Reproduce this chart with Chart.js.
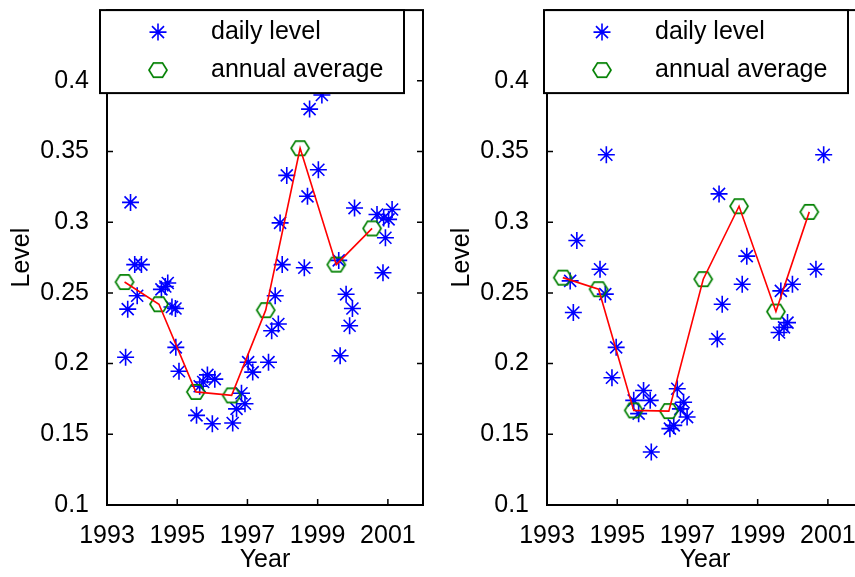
<!DOCTYPE html>
<html><head><meta charset="utf-8">
<script src="https://cdn.jsdelivr.net/npm/chart.js@4"></script>
<style>
html,body{margin:0;padding:0;background:#fff;overflow:hidden;width:855px;height:577px;position:relative;}
#c1{position:absolute;left:0;top:0;}
#c2{position:absolute;left:440px;top:0;}
</style></head><body>
<canvas id="c1" width="440" height="577"></canvas>
<canvas id="c2" width="440" height="577"></canvas>
<script>
const legendLabels = ['daily level', 'annual average'];
const xTitle = 'Year';
const yTitle = 'Level';
const xTickValues = [1993, 1995, 1997, 1999, 2001];
const xTickLabels = ['1993', '1995', '1997', '1999', '2001'];
const yTickValues = [0.1, 0.15, 0.2, 0.25, 0.3, 0.35, 0.4];
const yTickLabels = ['0.1', '0.15', '0.2', '0.25', '0.3', '0.35', '0.4'];

// Left panel
const leftDailyYears = [1993.53,1993.59,1993.67,1993.79,1993.98,1993.86,1994.55,1994.66,1994.73,1994.85,1994.95,1994.96,1995.05,1995.55,1995.64,1995.74,1995.86,1996.07,1996.00,1996.58,1996.69,1996.83,1996.93,1997.02,1997.15,1997.60,1997.69,1997.79,1997.88,1997.93,1997.99,1998.12,1998.62,1998.71,1998.77,1999.02,1999.12,1999.60,1999.64,1999.81,1999.91,1999.99,2000.05,2000.69,2000.86,2000.88,2000.93,2001.02,2001.12];
const leftDailyLevels = [0.2045,0.2385,0.314,0.270,0.270,0.248,0.2525,0.2545,0.257,0.240,0.239,0.2115,0.1946,0.1634,0.184,0.187,0.192,0.189,0.1575,0.158,0.168,0.179,0.1716,0.201,0.194,0.201,0.2232,0.248,0.228,0.2995,0.270,0.3331,0.2678,0.3183,0.380,0.3371,0.390,0.273,0.2056,0.249,0.2268,0.239,0.310,0.3054,0.2643,0.303,0.289,0.302,0.309];
const leftAvgYears = [1993.5,1994.48,1995.53,1996.55,1997.52,1998.5,1999.53,2000.55];
const leftAvgLevels = [0.2577,0.242,0.180,0.1775,0.2378,0.3523,0.270,0.2956];

// Right panel
const rightDailyYears = [1993.66,1993.75,1993.85,1994.51,1994.66,1994.69,1994.85,1994.97,1995.47,1995.61,1995.75,1995.94,1995.97,1996.50,1996.61,1996.71,1996.80,1996.89,1996.99,1997.85,1997.90,1997.99,1998.56,1998.69,1999.61,1999.66,1999.75,1999.85,1999.99,2000.66,2000.88];
const rightDailyLevels = [0.2585,0.2361,0.2871,0.2667,0.2491,0.3477,0.190,0.2115,0.174,0.1646,0.181,0.174,0.1375,0.154,0.1563,0.1822,0.168,0.1727,0.1622,0.2174,0.320,0.242,0.2561,0.276,0.222,0.2514,0.2256,0.229,0.2561,0.2667,0.3477];
const rightAvgYears = [1993.45,1994.47,1995.47,1996.47,1997.45,1998.47,1999.52,2000.47];
const rightAvgLevels = [0.2608,0.2526,0.1669,0.1664,0.2597,0.3113,0.2368,0.3073];

const FONT = '"Liberation Sans", Arial, Helvetica, sans-serif';
const FSIZE = 25;
const BLUE = '#0000ff', GREEN = '#008000', RED = '#ff0000';

function hexImage() {
  const c = document.createElement('canvas');
  c.width = 24; c.height = 22;
  const g = c.getContext('2d');
  g.strokeStyle = GREEN; g.lineWidth = 1.7;
  g.beginPath();
  for (let i = 0; i < 6; i++) {
    const a = i * Math.PI / 3;
    const px = 12 + 9 * Math.cos(a), py = 11 + 8.2 * Math.sin(a) / Math.sin(Math.PI / 3) * Math.sin(Math.PI / 3);
    if (i === 0) g.moveTo(px, py); else g.lineTo(px, py);
  }
  g.closePath(); g.stroke();
  return c;
}
const HEX = hexImage();

function drawStar(ctx, x, y, r) {
  ctx.beginPath();
  for (let i = 0; i < 4; i++) {
    const a = i * Math.PI / 4;
    ctx.moveTo(x - r * Math.cos(a), y - r * Math.sin(a));
    ctx.lineTo(x + r * Math.cos(a), y + r * Math.sin(a));
  }
  ctx.stroke();
}

const framePlugin = {
  id: 'frame',
  afterDraw(chart, args, opts) {
    const {ctx, chartArea: a, scales} = chart;
    ctx.save();
    ctx.strokeStyle = '#000';
    ctx.lineWidth = 1.5;
    ctx.beginPath();
    scales.x.ticks.forEach(t => {
      const px = scales.x.getPixelForValue(t.value);
      ctx.moveTo(px, a.bottom); ctx.lineTo(px, a.bottom - 6);
      ctx.moveTo(px, a.top); ctx.lineTo(px, a.top + 6);
    });
    scales.y.ticks.forEach(t => {
      const py = scales.y.getPixelForValue(t.value);
      ctx.moveTo(a.left, py); ctx.lineTo(a.left + 6, py);
      ctx.moveTo(a.right, py); ctx.lineTo(a.right - 6, py);
    });
    ctx.stroke();
    ctx.lineWidth = 2;
    ctx.strokeRect(a.left, a.top, a.right - a.left, a.bottom - a.top);

    // legend
    const L = opts.legendLeft, R = opts.legendRight, T = a.top, B = a.top + 83;
    ctx.fillStyle = '#fff';
    ctx.fillRect(L, T, R - L, B - T);
    ctx.lineWidth = 2;
    ctx.strokeStyle = '#000';
    ctx.strokeRect(L, T, R - L, B - T);
    ctx.strokeStyle = BLUE; ctx.lineWidth = 1.6;
    drawStar(ctx, L + 58, T + 22, 8.5);
    ctx.drawImage(HEX, L + 58 - 12, T + 60 - 11);
    ctx.fillStyle = '#000';
    ctx.font = FSIZE + 'px ' + FONT;
    ctx.textBaseline = 'middle';
    ctx.textAlign = 'left';
    ctx.fillText(legendLabels[0], L + 111, T + 22);
    ctx.fillText(legendLabels[1], L + 111, T + 60);
    ctx.restore();
  }
};

function makeChart(id, dYears, dLevels, aYears, aLevels, legendLeft, legendRight) {
  const daily = dYears.map((x, i) => ({x, y: dLevels[i]}));
  const avg = aYears.map((x, i) => ({x, y: aLevels[i]}));
  return new Chart(document.getElementById(id), {
    type: 'scatter',
    data: {
      datasets: [
        {label: 'line', data: avg, showLine: true, borderColor: RED, borderWidth: 1.6, pointRadius: 0, fill: false},
        {label: legendLabels[1], data: avg, pointStyle: HEX, pointRadius: 9, showLine: false},
        {label: legendLabels[0], data: daily, pointStyle: 'star', pointRadius: 8.5, borderColor: BLUE, backgroundColor: BLUE, pointBorderWidth: 1.6, showLine: false}
      ]
    },
    options: {
      responsive: false,
      animation: false,
      devicePixelRatio: 1,
      layout: {padding: {top: 10, right: 17, left: 0, bottom: 0}},
      plugins: {
        legend: {display: false},
        tooltip: {enabled: false},
        frame: {legendLeft, legendRight}
      },
      scales: {
        x: {
          type: 'linear', min: 1993, max: 2002,
          grid: {display: false}, border: {display: false},
          afterBuildTicks: s => { s.ticks = xTickValues.map(v => ({value: v})); },
          afterFit: s => { s.height = 72; s.paddingLeft = 0; s.paddingRight = 0; },
          ticks: {autoSkip: false, maxRotation: 0, padding: 8, color: '#000', font: {size: FSIZE, family: FONT},
            callback: (v, i) => xTickLabels[i]},
          title: {display: true, text: xTitle, color: '#000', font: {size: FSIZE, family: FONT}, padding: {top: 0, bottom: 2}}
        },
        y: {
          type: 'linear', min: 0.1, max: 0.45,
          grid: {display: false}, border: {display: false},
          afterBuildTicks: s => { s.ticks = yTickValues.map(v => ({value: v})); },
          afterFit: s => { s.width = 107; s.paddingTop = 0; s.paddingBottom = 0; },
          ticks: {autoSkip: false, padding: 10, color: '#000', font: {size: FSIZE, family: FONT},
            callback: (v, i) => yTickLabels[i]},
          title: {display: true, text: yTitle, color: '#000', font: {size: FSIZE, family: FONT}, padding: {top: 7, bottom: 0}}
        }
      }
    },
    plugins: [framePlugin]
  });
}

makeChart('c1', leftDailyYears, leftDailyLevels, leftAvgYears, leftAvgLevels, 100, 404);
makeChart('c2', rightDailyYears, rightDailyLevels, rightAvgYears, rightAvgLevels, 104, 408);
</script>
</body></html>
